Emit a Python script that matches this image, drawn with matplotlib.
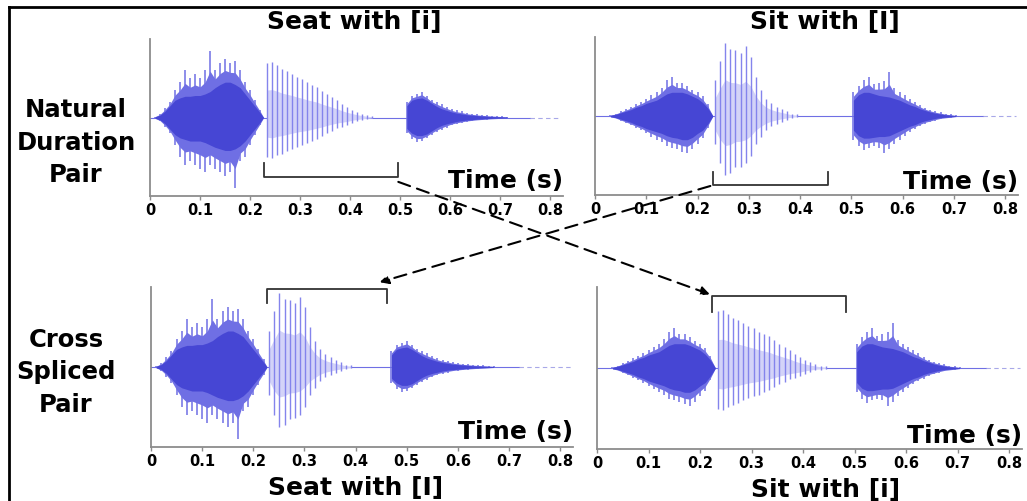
import numpy as np
import matplotlib.pyplot as plt
from matplotlib.patches import ConnectionPatch
from matplotlib.lines import Line2D

# ---- waveform envelopes (amplitude, axis units -1..1) ----
# fricative [s], "seat" recording: times relative to onset
s_seat_t = [0, .01, .02, .03, .04, .05, .06, .07, .08, .09, .10, .11, .12, .13,
            .14, .15, .16, .17, .18, .19, .20, .21, .217]
s_seat_core_up = [.01, .03, .08, .15, .22, .25, .27, .27, .28, .28, .30, .33, .38,
                  .42, .45, .45, .42, .38, .30, .22, .14, .06, 0]
s_seat_core_lo = [-.01, -.03, -.08, -.15, -.22, -.26, -.28, -.30, -.30, -.30, -.32,
                  -.35, -.38, -.40, -.42, -.42, -.40, -.36, -.30, -.22, -.14, -.06, 0]
s_seat_out_up = [.01, .05, .12, .20, .35, .45, .60, .50, .55, .50, .60, .85, .60,
                 .70, .75, .70, .72, .60, .45, .35, .22, .10, 0]
s_seat_out_lo = [-.01, -.05, -.12, -.20, -.35, -.50, -.60, -.55, -.60, -.65, -.70,
                 -.60, -.65, -.70, -.75, -.70, -.90, -.55, -.50, -.35, -.22, -.10, 0]

# fricative [s], "sit" recording
s_sit_t = [0, .01, .02, .03, .04, .05, .06, .07, .08, .09, .10, .11, .12, .13,
           .14, .15, .16, .17, .18, .19, .20]
s_sit_core_up = [.01, .02, .04, .06, .08, .11, .13, .16, .18, .20, .24, .28, .30,
                 .30, .30, .28, .25, .22, .17, .10, 0]
s_sit_core_lo = [-.01, -.02, -.04, -.06, -.08, -.11, -.13, -.16, -.18, -.20, -.22,
                 -.25, -.27, -.28, -.30, -.30, -.27, -.22, -.18, -.10, 0]
s_sit_out_up = [.01, .03, .06, .09, .12, .15, .18, .22, .26, .30, .36, .45, .50,
                .42, .42, .38, .33, .30, .25, .15, 0]
s_sit_out_lo = [-.01, -.03, -.06, -.09, -.12, -.15, -.18, -.22, -.26, -.30, -.33,
                -.38, -.40, -.42, -.45, -.47, -.42, -.35, -.28, -.15, 0]

# vowel [i] (seat): glottal pulses
v_i_t = [.005, .015, .025, .035, .045, .055, .065, .075, .085, .095, .105, .115,
         .125, .135, .145, .155, .165, .175, .185, .195, .205, .215]
v_i_up = [.70, .71, .67, .62, .59, .56, .52, .49, .45, .42, .39, .34, .30, .26,
          .22, .17, .13, .10, .07, .05, .03, .02]
v_i_lo = [-.50, -.52, -.48, -.46, -.43, -.40, -.37, -.35, -.33, -.30, -.27, -.24,
          -.20, -.17, -.14, -.12, -.10, -.07, -.05, -.03, -.02, -.01]

# vowel [I] (sit)
v_I_t = [.002, .012, .022, .032, .042, .052, .062, .072, .082, .092, .102, .112,
         .122, .132, .142, .152, .162]
v_I_up = [.45, .70, .92, .85, .84, .80, .88, .75, .50, .33, .22, .16, .12, .09,
          .06, .03, .02]
v_I_lo = [-.35, -.60, -.75, -.72, -.65, -.64, -.60, -.50, -.35, -.26, -.18, -.13,
          -.10, -.07, -.05, -.03, -.015]

# final [t] release
t_rel = [0, .01, .02, .03, .04, .05, .06, .07, .08, .09, .10, .11, .12, .13, .14,
         .15, .16, .17, .18, .19, .20]
t_seat_core_up = [.15, .22, .24, .25, .22, .18, .14, .11, .09, .07, .055, .045, .035,
                  .03, .025, .02, .015, .012, .01, .008, .006]
t_seat_core_lo = [-.14, -.20, -.23, -.23, -.21, -.17, -.13, -.10, -.08, -.065, -.05,
                  -.04, -.033, -.028, -.022, -.018, -.014, -.011, -.009, -.007, -.005]
t_seat_out_up = [.20, .28, .30, .33, .28, .22, .20, .17, .14, .11, .09, .08, .06,
                 .05, .04, .035, .03, .025, .02, .015, .01]
t_seat_out_lo = [-.20, -.27, -.31, -.30, -.26, -.22, -.19, -.16, -.13, -.10, -.085,
                 -.07, -.055, -.045, -.038, -.032, -.027, -.022, -.018, -.013, -.008]
t_sit_core_up = [.20, .27, .30, .30, .28, .26, .25, .24, .22, .20, .17, .14, .12,
                 .09, .07, .05, .035, .025, .015, .01, .005]
t_sit_core_lo = [-.18, -.25, -.28, -.28, -.27, -.26, -.26, -.25, -.22, -.19, -.16,
                 -.13, -.11, -.08, -.06, -.045, -.03, -.02, -.015, -.01, -.005]
t_sit_out_up = [.30, .38, .45, .50, .40, .42, .44, .56, .35, .30, .26, .22, .18,
                .14, .10, .08, .06, .045, .03, .02, .01]
t_sit_out_lo = [-.30, -.38, -.43, -.40, -.38, -.40, -.47, -.42, -.35, -.30, -.25,
                -.20, -.16, -.13, -.10, -.08, -.06, -.04, -.03, -.02, -.01]

# segment onsets (s) per panel: [s], vowel, [t], end of signal
tl_on = [.01, .229, .513, .76]
tr_on = [.03, .232, .504, .757]
bl_on = [.01, .229, .470, .72]
br_on = [.03, .229, .504, .756]

# brackets marking the vowel: (start, end)
tl_br = (.228, .496)
tr_br = (.231, .454)
bl_br = (.227, .461)
br_br = (.223, .483)

ticks = [0, .1, .2, .3, .4, .5, .6, .7, .8]
tick_labels = ['0', '0.1', '0.2', '0.3', '0.4', '0.5', '0.6', '0.7', '0.8']

CORE = '#4646d4'
OUTER = '#6f6fe4'
VLINE = '#8484ec'
VFILL = '#d3d3f8'
AXC = '#8c8c8c'
FONT = 'DejaVu Sans'

W, H = 1027, 502
fig = plt.figure(figsize=(W / 100, H / 100), dpi=100)


def px_axes(l, r, t, b):
    return fig.add_axes([l / W, 1 - b / H, (r - l) / W, (b - t) / H])


def fric(ax, on, t, cu, cl, ou, ol):
    t = np.asarray(t) + on
    cu, cl, ou, ol = map(np.asarray, (cu, cl, ou, ol))
    # halo halfway between core and spikes, spikes as thin lines
    ax.fill_between(t, (cl + ol) / 2, (cu + ou) / 2, color=OUTER, lw=0, zorder=2)
    ax.vlines(t, ol, ou, color=OUTER, lw=1.1, zorder=2)
    ax.fill_between(t, cl, cu, color=CORE, lw=0, zorder=3)


def vowel(ax, on, t, up, lo):
    t = np.asarray(t) + on
    ax.fill_between(t, np.asarray(lo) * 0.5, np.asarray(up) * 0.5, color=VFILL,
                    lw=0, zorder=2)
    ax.vlines(t, lo, up, color=VLINE, lw=1.0, zorder=3)


def setup(ax):
    ax.set_xlim(0, .825)
    ax.set_ylim(-1, 1)
    for s in ['top', 'right']:
        ax.spines[s].set_visible(False)
    for s in ['left', 'bottom']:
        ax.spines[s].set_color(AXC)
        ax.spines[s].set_linewidth(1.3)
    ax.set_yticks([])
    ax.set_xticks(ticks)
    ax.set_xticklabels(tick_labels, fontfamily=FONT, fontweight='bold', fontsize=10.5)
    ax.tick_params(axis='x', direction='out', length=3, width=1, color=AXC, pad=1)
    ax.patch.set_alpha(0)


def panel(ax, on, s_seg, v_seg, t_seg, bracket, by, bend, tx_y):
    setup(ax)
    ax.plot([0, on[3]], [0, 0], color=OUTER, lw=0.8, zorder=1)
    ax.plot([on[3], .822], [0, 0], color='#a8a8e8', lw=0.8, ls=(0, (4, 3)), zorder=1)
    fric(ax, on[0], *s_seg)
    vowel(ax, on[1], *v_seg)
    fric(ax, on[2], *t_seg)
    a, b = bracket
    ax.plot([a, a, b, b], [bend, by, by, bend], color='#333333', lw=1.3,
            clip_on=False, zorder=4)
    ax.text(1.0, tx_y, 'Time (s)', transform=ax.transAxes, ha='right',
            va='baseline', fontfamily=FONT, fontweight='bold', fontsize=18)


S_SEAT = (s_seat_t, s_seat_core_up, s_seat_core_lo, s_seat_out_up, s_seat_out_lo)
S_SIT = (s_sit_t, s_sit_core_up, s_sit_core_lo, s_sit_out_up, s_sit_out_lo)
V_I = (v_i_t, v_i_up, v_i_lo)
V_II = (v_I_t, v_I_up, v_I_lo)
T_SEAT = (t_rel, t_seat_core_up, t_seat_core_lo, t_seat_out_up, t_seat_out_lo)
T_SIT = (t_rel, t_sit_core_up, t_sit_core_lo, t_sit_out_up, t_sit_out_lo)

ax_tl = px_axes(150, 563, 40, 197)
ax_tr = px_axes(595, 1018, 38, 196)
ax_bl = px_axes(151, 573, 288, 448)
ax_br = px_axes(597, 1022, 288, 450)

panel(ax_tl, tl_on, S_SEAT, V_I, T_SEAT, tl_br, -.758, -.58, .057)
panel(ax_tr, tr_on, S_SIT, V_II, T_SIT, tr_br, -.873, -.709, .044)
panel(ax_bl, bl_on, S_SEAT, V_II, T_SEAT, bl_br, .975, .80, .056)
panel(ax_br, br_on, S_SIT, V_I, T_SIT, br_br, .889, .69, .043)

# titles
tkw = dict(fontfamily=FONT, fontweight='bold', fontsize=18, ha='center', va='center')
fig.text(354 / W, 1 - 22 / H, 'Seat with [i]', **tkw)
fig.text(825 / W, 1 - 22 / H, 'Sit with [I]', **tkw)
fig.text(356 / W, 1 - 488 / H, 'Seat with [I]', **tkw)
fig.text(826 / W, 1 - 490 / H, 'Sit with [i]', **tkw)

lkw = dict(fontfamily=FONT, fontweight='bold', fontsize=17.5, ha='center', va='baseline')
for word, y in zip(['Natural', 'Duration', 'Pair'], [117, 150, 182]):
    fig.text(76 / W, 1 - y / H, word, **lkw)
for word, y in zip(['Cross', 'Spliced', 'Pair'], [347, 379, 412]):
    fig.text(66 / W, 1 - y / H, word, **lkw)

# dashed arrows between the brackets
akw = dict(arrowstyle='-|>', linestyle=(0, (6, 3.5)), lw=1.5, color='black',
           mutation_scale=13, shrinkA=0, shrinkB=0)
fig.add_artist(ConnectionPatch(xyA=(tl_br[1], -.82), coordsA=ax_tl.transData,
                               xyB=(.219, .91), coordsB=ax_br.transData, **akw))
fig.add_artist(ConnectionPatch(xyA=(tr_br[0] - .006, -.886), coordsA=ax_tr.transData,
                               xyB=(.447, 1.06), coordsB=ax_bl.transData, **akw))

# frame
fig.add_artist(Line2D([9 / W, 9 / W], [0, 1 - 8 / H], transform=fig.transFigure,
                      color='black', lw=2))
fig.add_artist(Line2D([9 / W, 1], [1 - 8 / H, 1 - 8 / H], transform=fig.transFigure,
                      color='black', lw=2))

fig.savefig('out.png', dpi=100)
